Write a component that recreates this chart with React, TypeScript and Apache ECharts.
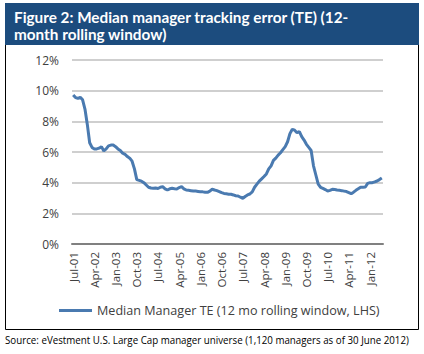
import React, { useEffect, useRef } from "react";
import * as echarts from "echarts";

const monthNames = ["Jan", "Feb", "Mar", "Apr", "May", "Jun", "Jul", "Aug", "Sep", "Oct", "Nov", "Dec"];
// Monthly categories Jul-01 .. Jun-12
const categories: string[] = [];
for (let y = 2001; y <= 2012; y++) {
  for (let m = 0; m < 12; m++) {
    if (y === 2001 && m < 6) continue;
    if (y === 2012 && m > 5) continue;
    categories.push(monthNames[m] + "-" + String(y % 100).padStart(2, "0"));
  }
}

const medianTE = [
  9.72, 9.55, 9.5, 9.57, 9.4, 8.8, 7.8, 6.6, 6.3, 6.2,
  6.2, 6.25, 6.35, 6.07, 6.2, 6.4, 6.45, 6.45, 6.35, 6.2,
  6.1, 5.92, 5.85, 5.7, 5.6, 5.4, 4.9, 4.2, 4.15, 4.1,
  4.0, 3.85, 3.7, 3.65, 3.63, 3.65, 3.62, 3.7, 3.74, 3.6,
  3.52, 3.6, 3.63, 3.6, 3.59, 3.68, 3.74, 3.6, 3.52, 3.5,
  3.48, 3.46, 3.45, 3.43, 3.41, 3.4, 3.38, 3.37, 3.45, 3.57,
  3.52, 3.48, 3.42, 3.35, 3.3, 3.28, 3.25, 3.24, 3.2, 3.15,
  3.13, 3.05, 2.98, 3.1, 3.2, 3.26, 3.4, 3.7, 3.9, 4.1,
  4.25, 4.4, 4.57, 4.9, 5.1, 5.45, 5.6, 5.8, 5.95, 6.15,
  6.35, 6.67, 7.2, 7.48, 7.42, 7.26, 7.33, 7.0, 6.78, 6.5,
  6.3, 6.1, 5.1, 4.5, 3.9, 3.7, 3.63, 3.55, 3.46, 3.5,
  3.57, 3.55, 3.52, 3.5, 3.48, 3.45, 3.42, 3.35, 3.28, 3.38,
  3.5, 3.6, 3.7, 3.7, 3.72, 3.95, 4.0, 4.0, 4.05, 4.11,
  4.2, 4.3,
];

const seriesName = "Median Manager TE (12 mo rolling window, LHS)";
const titleLine1 = "Figure 2: Median manager tracking error (TE) (12-";
const titleLine2 = "month rolling window)";
const sourceText = "Source: eVestment U.S. Large Cap manager universe (1,120 managers as of 30 June 2012)";

const FONT = "'Open Sans', 'Noto Sans', sans-serif";
const TITLE_FONT = "Lato, 'Open Sans', sans-serif";

export default function App() {
  const ref = useRef<HTMLDivElement>(null);
  useEffect(() => {
    document.body.style.margin = "0";
    const chart = echarts.init(ref.current!, null, { renderer: "svg" });
    chart.setOption({
      animation: false,
      backgroundColor: "#ffffff",
      graphic: [
        {
          type: "rect",
          z: -1,
          shape: { x: 5.5, y: 4.5, width: 413, height: 325 },
          style: { fill: "#ffffff", stroke: "#000000", lineWidth: 1 },
        },
        {
          type: "rect",
          z: 0,
          shape: { x: 5, y: 3, width: 414, height: 42 },
          style: { fill: "#1c4c7e" },
        },
        {
          type: "text",
          z: 1,
          left: 14,
          top: 9,
          style: { text: titleLine1, fill: "#ffffff", fontSize: 15.3, fontWeight: "bold", fontFamily: TITLE_FONT },
        },
        {
          type: "text",
          z: 1,
          left: 14,
          top: 26,
          style: { text: titleLine2, fill: "#ffffff", fontSize: 15.3, fontWeight: "bold", fontFamily: TITLE_FONT },
        },
        {
          type: "text",
          x: 5,
          y: 334,
          scaleX: 0.848,
          style: { text: sourceText, fill: "#000000", fontSize: 11.5, fontFamily: FONT },
        },
      ],
      grid: { left: 72, right: 41, top: 60, bottom: 110 },
      legend: {
        data: [seriesName],
        left: 54,
        top: 299,
        icon: "rect",
        itemWidth: 33,
        itemHeight: 3,
        itemGap: 3,
        textStyle: { color: "#404040", fontSize: 12.6, fontFamily: FONT },
      },
      xAxis: {
        type: "category",
        data: categories,
        boundaryGap: true,
        axisLine: { show: true, lineStyle: { color: "#808080", width: 2 } },
        axisTick: { show: false },
        axisLabel: {
          interval: 8,
          rotate: 90,
          color: "#404040",
          fontSize: 11.5,
          fontFamily: FONT,
          margin: 8,
        },
      },
      yAxis: {
        type: "value",
        min: 0,
        max: 12,
        interval: 2,
        axisLine: { show: false },
        axisTick: { show: false },
        axisLabel: {
          formatter: "{value}%",
          color: "#404040",
          fontSize: 12,
          fontFamily: FONT,
          margin: 13,
        },
        splitLine: { lineStyle: { color: "#bfbfbf", width: 1.5 } },
      },
      series: [
        {
          name: seriesName,
          type: "line",
          data: medianTE,
          showSymbol: false,
          symbol: "none",
          lineStyle: { color: "#4a7ab0", width: 3 },
          itemStyle: { color: "#4a7ab0" },
        },
      ],
    });
    return () => chart.dispose();
  }, []);
  return <div ref={ref} style={{ width: 424, height: 354 }} />;
}
